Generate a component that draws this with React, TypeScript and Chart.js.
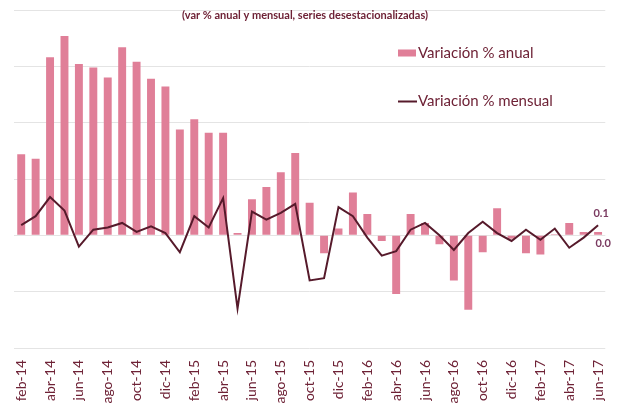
import React, { useEffect, useRef } from 'react';
import { Chart, registerables } from 'chart.js';

Chart.register(...registerables);

const months: string[] = [
  'feb-14', 'mar-14', 'abr-14', 'may-14', 'jun-14', 'jul-14', 'ago-14', 'sep-14', 'oct-14', 'nov-14', 'dic-14',
  'ene-15', 'feb-15', 'mar-15', 'abr-15', 'may-15', 'jun-15', 'jul-15', 'ago-15', 'sep-15', 'oct-15', 'nov-15', 'dic-15',
  'ene-16', 'feb-16', 'mar-16', 'abr-16', 'may-16', 'jun-16', 'jul-16', 'ago-16', 'sep-16', 'oct-16', 'nov-16', 'dic-16',
  'ene-17', 'feb-17', 'mar-17', 'abr-17', 'may-17', 'jun-17',
];

const annual: number[] = [
  0.72, 0.68, 1.58, 1.77, 1.52, 1.49, 1.40, 1.67, 1.54, 1.39, 1.32,
  0.94, 1.03, 0.91, 0.91, 0.02, 0.32, 0.43, 0.56, 0.73, 0.29, -0.16, 0.06,
  0.38, 0.19, -0.05, -0.52, 0.19, 0.11, -0.08, -0.40, -0.66, -0.15, 0.24, -0.03,
  -0.16, -0.17, 0.01, 0.11, 0.03, 0.03,
];

const monthly: number[] = [
  0.09, 0.17, 0.34, 0.22, -0.10, 0.05, 0.07, 0.11, 0.03, 0.08, 0.02,
  -0.15, 0.17, 0.07, 0.33, -0.65, 0.21, 0.14, 0.20, 0.28, -0.40, -0.38, 0.25,
  0.17, -0.02, -0.18, -0.14, 0.05, 0.11, 0.00, -0.13, 0.02, 0.12, 0.02, -0.05,
  0.05, -0.04, 0.06, -0.11, -0.02, 0.09,
];

const seriesNames: string[] = ['Variación % anual', 'Variación % mensual'];
const titleText = '(var % anual y mensual, series desestacionalizadas)';
const yMin = -1;
const yMax = 2;
const yStep = 0.5;

const BAR_COLOR = '#e07f98';
const LINE_COLOR = '#561a2b';
const TEXT_COLOR = '#6e2236';
const LABEL_COLOR = '#7a3a60';
const GRID_COLOR = '#e4e4e4';
const FONT = 'Lato';

const overlayPlugin = {
  id: 'overlay',
  afterDatasetsDraw(chart: any) {
    const ctx = chart.ctx as CanvasRenderingContext2D;
    ctx.save();
    // subtitle
    ctx.fillStyle = TEXT_COLOR;
    ctx.font = `bold 11px ${FONT}`;
    ctx.textAlign = 'center';
    ctx.textBaseline = 'middle';
    ctx.fillText(titleText, 305, 15);

    // legend
    ctx.fillStyle = BAR_COLOR;
    ctx.fillRect(398, 49.5, 18, 7);
    ctx.strokeStyle = LINE_COLOR;
    ctx.lineWidth = 2;
    ctx.beginPath();
    ctx.moveTo(398, 101.5);
    ctx.lineTo(417, 101.5);
    ctx.stroke();
    ctx.fillStyle = TEXT_COLOR;
    ctx.font = `15px ${FONT}`;
    ctx.textAlign = 'left';
    ctx.fillText(seriesNames[0], 418, 53.5);
    ctx.fillText(seriesNames[1], 418, 101);

    // last value labels
    const last = months.length - 1;
    const lineMeta = chart.getDatasetMeta(1);
    const barMeta = chart.getDatasetMeta(0);
    const pt = lineMeta.data[last];
    const bar = barMeta.data[last];
    ctx.fillStyle = LABEL_COLOR;
    ctx.font = `bold 11px ${FONT}`;
    ctx.textAlign = 'center';
    ctx.fillText(monthly[last].toFixed(1), pt.x + 3, pt.y - 12);
    ctx.fillText(annual[last].toFixed(1), bar.x + 5, bar.y + 11);
    ctx.restore();
  },
};

export default function App() {
  const ref = useRef<HTMLCanvasElement | null>(null);

  useEffect(() => {
    document.body.style.margin = '0';
    const canvas = ref.current;
    if (!canvas) return;
    const chart = new Chart(canvas, {
      type: 'bar',
      data: {
        labels: months,
        datasets: [
          {
            type: 'bar',
            label: seriesNames[0],
            data: annual,
            backgroundColor: BAR_COLOR,
            borderWidth: 0,
            categoryPercentage: 1,
            barPercentage: 0.55,
            order: 2,
          },
          {
            type: 'line',
            label: seriesNames[1],
            data: monthly,
            borderColor: LINE_COLOR,
            backgroundColor: LINE_COLOR,
            borderWidth: 2,
            pointRadius: 0,
            tension: 0,
            order: 1,
          },
        ] as any,
      },
      options: {
        responsive: false,
        animation: false,
        devicePixelRatio: 1,
        layout: { padding: { left: 14, right: 10, top: 10, bottom: 0 } },
        plugins: {
          legend: { display: false },
          title: { display: false },
          tooltip: { enabled: false },
        },
        scales: {
          x: {
            grid: { display: false, drawTicks: false },
            border: { display: false },
            ticks: {
              autoSkip: false,
              minRotation: 90,
              maxRotation: 90,
              padding: 12,
              color: TEXT_COLOR,
              font: { family: FONT, size: 14 },
              callback: (_v: any, i: number) => (i % 2 === 0 ? months[i] : ''),
            },
            afterFit: (scale: any) => {
              scale.height = 57;
            },
          },
          y: {
            min: yMin,
            max: yMax,
            grid: { color: GRID_COLOR, lineWidth: 1, drawTicks: false },
            border: { display: false },
            ticks: { display: false, stepSize: yStep },
          },
        },
      },
      plugins: [overlayPlugin],
    });
    return () => chart.destroy();
  }, []);

  return (
    <div style={{ width: 627, height: 405, position: 'relative' }}>
      <canvas ref={ref} width={627} height={405} style={{ display: 'block' }} />
    </div>
  );
}
